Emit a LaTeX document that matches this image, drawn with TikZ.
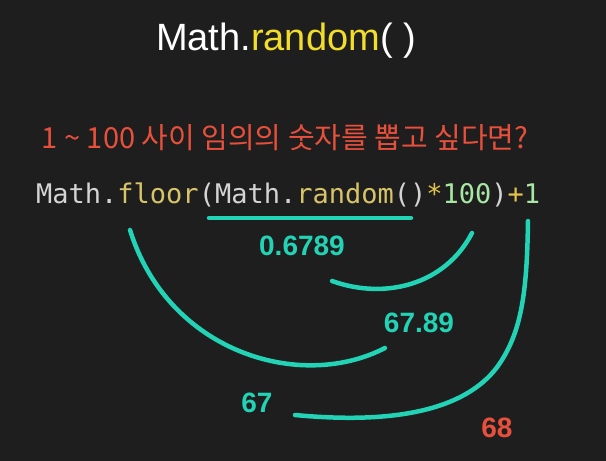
\documentclass[tikz,border=0pt]{standalone}
\usepackage{fontspec}
\setmainfont{Liberation Sans}
\setmonofont{DejaVu Sans Mono}
\newfontfamily\krfont{Noto Sans CJK KR}
\definecolor{bg}{HTML}{1E1E1E}
\definecolor{titleyellow}{HTML}{F2DD2A}
\definecolor{qred}{HTML}{E8503C}
\definecolor{chalk}{HTML}{22D3B6}
\definecolor{codegray}{HTML}{D4D4D4}
\definecolor{codefn}{HTML}{D8C468}
\definecolor{codeop}{HTML}{E2C44C}
\definecolor{codenum}{HTML}{A8E6A3}
\newcommand{\cg}[1]{{\color{codegray}#1}}
\newcommand{\cf}[1]{{\color{codefn}#1}}
\newcommand{\co}[1]{{\color{codeop}#1}}
\newcommand{\cn}[1]{{\color{codenum}#1}}

\begin{document}
\begin{tikzpicture}[
    x=1pt, y=-1pt,
    txt/.style={inner sep=0pt, anchor=base},
    num/.style={txt, text=chalk, font=\fontsize{28}{30}\selectfont\bfseries},
    chalkline/.style={draw=chalk, line width=4.5pt, line cap=round}
]
    \fill[bg] (0,0) rectangle (606,461);
    \useasboundingbox (0,0) rectangle (606,461);

    \node[txt, text=white, font=\fontsize{38}{40}\selectfont] (title) at (286,50)
        {Math.{\color{titleyellow}random}( )};
    \node[txt, text=qred, font=\krfont\fontsize{29}{31}\selectfont] (question) at (285,148)
        {1 \textasciitilde{} 100 사이 임의의 숫자를 뽑고 싶다면?};
    \node[txt, anchor=base west, font=\ttfamily\fontsize{27}{29}\selectfont] (code) at (36,203)
        {\cg{Math.}\cf{floor}\cg{(Math.}\cf{random}\cg{()}\co{*}\cn{100}\cg{)}\co{+}\cn{1}};

    \node[num] (rnd) at (302,255) {0.6789};
    \node[num] (times) at (419,332) {67.89};
    \node[num] (floor) at (257,412) {67};
    \node[num, text=qred] (plus) at (497,437) {68};

    \coordinate (ul1) at (209,218);
    \coordinate (ul2) at (411,218);
    \draw[chalkline] (ul1) -- (ul2);
    \draw[chalkline] (472,233) .. controls (445,285) and (385,300) .. (332,281);
    \draw[chalkline] (130,230) .. controls (168,352) and (300,392) .. (385,348);
    \draw[chalkline] (528,221) .. controls (527,290) and (522,330) .. (500,363)
        .. controls (470,408) and (400,425) .. (295,415);
\end{tikzpicture}
\end{document}
